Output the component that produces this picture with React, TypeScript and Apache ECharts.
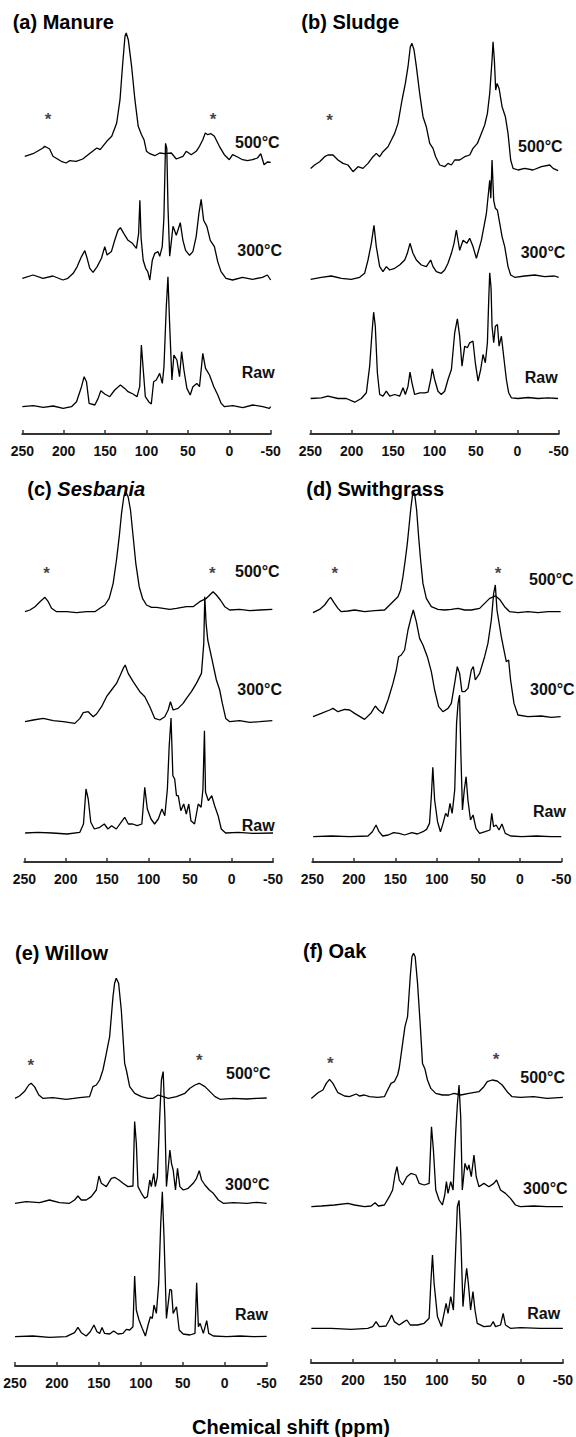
import React, { useEffect, useRef } from "react";
import * as echarts from "echarts";

// ---- tick labels (ppm) ----
const ppmTicks = [250, 200, 150, 100, 50, 0, -50];
const traceNames = ["500°C", "300°C", "Raw"];

// ---- spectra: [ppm, relative intensity] ----
const manure500 = [[247,1.7],[237,4.3],[225,10],[223,11.7],[217,9],[213,1.7],[203,-3.3],[197,-5],[193,-2.7],[185,-3.3],[177,-1],[169,4.3],[160,10],[156,8.3],[148,16.7],[142,21.7],[136,35],[132,58.3],[129,91.7],[126,121.7],[124.5,125],[122,118.3],[118,91.7],[114,58.3],[110,31.7],[106,23.3],[103,18.3],[100,6.7],[96,4.3],[90,2.3],[84,5],[78,4.3],[70,5],[64,-1],[56,1.7],[52,6.7],[46,3.3],[40,6.7],[36,11.7],[32,18.3],[29,25],[26,23.3],[22,24.3],[18,21.7],[12,11.7],[6,3.3],[0,-1.7],[-4,3.3],[-10,1],[-16,-1.7],[-22,-2.7],[-28,-1.7],[-34,0],[-38,4.3],[-42,-6.7],[-46,-4],[-50,-4.3]];
const manure300 = [[250,0],[237,3.3],[225,0],[213,2.3],[201,-1.7],[195,0],[188.5,5],[183.7,11.7],[178.5,21.7],[174.5,27.7],[171.7,20],[168.5,10],[164.5,6],[159.6,11.7],[154.4,20],[150.4,31.7],[147.6,23.3],[142.4,26.7],[138.4,38],[134.4,48],[131.5,50.6],[127.5,45],[122.3,38],[117,35],[112.2,30],[109.5,45],[108,78],[106.5,40],[104,18],[101,10],[98.5,6.7],[96,-1.7],[93,18],[90,25],[86,26.7],[84,22],[81,31.7],[79,60],[77,135],[75.5,130],[74,70],[72,22],[70,36.7],[68,52],[64,43],[59.2,55.6],[56,38],[52.8,28],[48,23],[44,26.7],[40,41.7],[36.7,65],[34,79],[31,58],[27,51.7],[23,38],[18,31.7],[14,16.7],[10,6.7],[4,0],[-4,-1.7],[-16,1],[-28,-1],[-40,1],[-46,3.3],[-50,-1.7]];
const manureRaw = [[250,0],[236.7,1],[224.7,-0.7],[212.7,0.7],[200.6,-1.7],[190.6,0],[184.5,5],[178.5,20],[175.3,30],[172.5,25],[169.3,3.3],[162.4,1.7],[158.4,8.3],[155.2,16],[150.4,12.7],[144.4,10],[138.4,16.7],[131.5,21.7],[126.3,18.3],[122.3,15],[116.3,12.7],[111.4,10],[108.2,20],[106.2,61.7],[104.2,40],[101.4,10],[97.4,5],[94.2,2.7],[91.4,25],[88.2,26.7],[84.1,33.3],[80.9,23.3],[78.9,40],[76.1,100],[74.1,130],[72.1,83.3],[69.3,26.7],[66.9,51.7],[63.3,46.7],[60.1,30],[57.6,55],[54.8,36.7],[51.2,18.3],[47.2,11.7],[44,20],[39.2,23.3],[36,20],[32,53.3],[28.7,38.3],[23.9,31.7],[18.7,20],[13.9,11.7],[9.8,3.3],[5.8,0],[-4.2,1],[-16.3,-1],[-28.3,1.7],[-40.4,0],[-48.4,-1.7],[-50,0]];

const sludge500 = [[249.6,-1.7],[244.8,1.7],[238.7,5],[232.7,10],[228.7,11.7],[222.6,11.7],[216.6,6.7],[210.5,3.3],[204.5,1.7],[198.4,-5],[192.4,0],[186.4,-1.7],[180.3,3.3],[174.3,10],[170.3,13.3],[166.2,10],[162.2,15],[156.2,20],[152.1,26.7],[148.1,33.3],[144.1,43.3],[139.2,66.7],[135.2,83.3],[132,100],[129.2,120],[127.2,123.3],[124.7,116.7],[121.9,100],[117.9,73.3],[113.9,50],[109.9,40],[105.8,23.3],[101.8,18.3],[98.6,10],[93.7,1.7],[87.7,0],[83.7,3.3],[79.6,1.7],[75.6,6.7],[69.6,6.7],[63.5,10],[57.5,11.7],[53.5,18.3],[48.2,23.3],[43.4,33.3],[39.4,41.7],[36.1,53.3],[33.3,73.3],[30.5,106.7],[29.3,125],[27.7,106.7],[26.1,76.7],[24.4,83.3],[22,78.3],[18.4,60],[14.4,50],[11.2,33.3],[8,6.7],[5.1,-1.7],[-0.9,-3.3],[-9,-1.7],[-19,-3.3],[-29.1,0],[-39.2,1.7],[-43.2,-1.7],[-49.2,-4]];
const sludge300 = [[249.6,-1],[236.7,1],[224.6,2.3],[212.5,0],[200.5,-1],[190.4,1],[184.4,5],[180.3,18.3],[176.3,35],[173.1,53],[170.3,31.7],[166.2,11.7],[162.2,6.7],[158.2,11.7],[154.1,8.3],[148.1,10],[142.1,13.3],[136,18.3],[132.8,25],[129.6,35],[126,25],[121.9,18.3],[115.9,13.3],[109.9,11.7],[104.6,18.3],[101.8,11.7],[97.8,6.7],[91.8,5],[87.7,8.3],[83.7,15],[79.6,25],[76.4,35],[73.6,48.3],[69.6,28],[65.5,38],[61,35],[57.5,40],[53.5,31.7],[49.4,20],[43.4,38],[37.3,65],[33.3,98],[32,80],[30.5,118.3],[28.5,78],[26.5,70],[24,68],[21.2,55],[18.4,41.7],[15.2,31.7],[11.2,11.7],[8,3.3],[3.1,1],[-9,2.3],[-21,3.3],[-33,1.7],[-45,2.3],[-50,1]];
const sludgeRaw = [[249.6,0],[236.7,0.7],[228.7,2.3],[216.6,0],[206.5,0],[196.4,-3.7],[188.4,0],[182.3,5.7],[178.3,32.3],[175.5,65.7],[173.5,86.3],[171.5,72.3],[169,25.7],[166.2,4],[162.2,2.3],[158.2,7.3],[154.1,2.3],[148.1,4],[142.1,2.3],[138,10.7],[135.2,4],[132,12.3],[129.6,26.3],[127.2,15.7],[124,4],[117.9,5.7],[111.9,5.7],[107.8,6.3],[104.6,19],[102.6,29.7],[99.8,19],[95.8,7.3],[91.8,4],[87.7,7.3],[83.7,19],[79.6,29],[75.6,65.7],[72.4,79.7],[69.6,62.3],[66.8,32.3],[63.5,52.3],[60.3,50.7],[57.5,55.7],[53.5,57.3],[50.7,35.7],[47.4,17.3],[44.2,29],[41.4,44],[38.6,35.7],[36.1,55.7],[34.5,99],[33.3,125.7],[31.7,110.7],[30.5,72.3],[28.5,55.7],[26.5,72.3],[24,74],[22,52.3],[19.2,62.3],[16,39],[13.2,19],[10.4,5.7],[7.2,0.7],[-0.9,0],[-13,1],[-25,0],[-37.2,0.7],[-49.2,0]];

const sesbania500 = [[249.2,-1.7],[243.2,0],[237.1,3.3],[231.1,8.3],[225.1,12.7],[221.1,8.3],[217.1,1.7],[211,-1.7],[199,-1.7],[187,-2.7],[174.9,-1.7],[164.9,-1.7],[158.8,1.7],[152.8,5],[147.6,11.7],[142.8,26.7],[138.8,50],[135.5,73.3],[132.7,96.7],[130,113],[127.5,118],[124.7,113],[121.9,100],[118.7,73.3],[115.5,46.7],[111.4,23.3],[107.4,11.7],[102.6,5],[96.6,2.7],[90.6,2.7],[82.5,1.7],[74.5,0.7],[66.5,1.7],[54.4,3.3],[46.4,3.3],[38.4,8.3],[30.3,11.7],[22.3,18.3],[18.3,15],[13.5,10],[8.2,3.3],[2.2,0],[-9.8,0.7],[-21.9,-0.7],[-33.9,0],[-49.2,0.7]];
const sesbania300 = [[249.2,0],[239.2,1.7],[227.1,3.3],[215.1,1],[203,0],[189,-1.7],[182.9,3.3],[178.9,9],[172.9,10],[166.9,5],[162.9,7.7],[156.8,15],[150.8,25],[144.8,31.7],[138.8,38.3],[134.1,46.7],[130.7,53.3],[128.3,56.7],[124.7,48.3],[118.7,40],[110.6,30],[104.6,25],[98.6,15],[92.6,3.3],[86.5,1.7],[80.5,5],[76.5,11.7],[73.7,20],[70.5,11.7],[64.5,13.3],[58.4,18.3],[54.4,23.3],[48.4,30],[42.4,38.3],[36.3,48.3],[33.5,78.3],[32.3,125],[30.7,98.3],[28.7,81.7],[24.3,65],[18.3,41.7],[14.3,31.7],[11.1,18.3],[7,3.3],[2.2,0],[-9.8,1],[-21.9,-0.7],[-33.9,0],[-49.2,1]];
const sesbaniaRaw = [[249,0],[233.6,0.7],[216,0],[198.4,-1],[183,0.7],[178.6,9],[175.6,44],[172.9,34],[169.8,10.7],[165.5,4],[158.9,5.7],[153.5,9],[149.1,4],[144.7,7.3],[139,4],[133.3,10.7],[128.9,15.7],[124.5,9],[119.2,9],[113.9,7.3],[108.2,9],[104.7,45.7],[101.6,24],[97.2,14],[92.8,9],[88.4,14],[84,24],[80.5,17.3],[77.4,44],[75.2,87.3],[73,115],[70.8,57.3],[68.6,54],[66.4,37.3],[64.3,37.3],[61.2,22.3],[57.7,29],[54.6,19],[51.6,29],[49,12.3],[44.6,9],[40.2,29],[36.7,25.7],[34.5,44],[32.7,102.3],[31.4,40.7],[27.9,32.3],[23.9,37.3],[20.4,27.3],[16.2,17.3],[12.4,4],[7.2,0],[-8.2,0.7],[-25.8,-0.3],[-50,0]];

const switchgrass500 = [[249.2,-1],[241.2,2.3],[235.1,6.7],[230.3,12.3],[227.9,14.3],[223.9,9],[219.1,3.3],[215.1,0],[207,0.7],[199,1.7],[187,0],[174.9,1],[162.9,1.7],[156.8,6.7],[150.8,11.7],[146.8,15],[143.6,21.7],[140.8,35],[138,51.7],[135.5,68.3],[133.5,85],[131.5,101.7],[129.1,118],[126.7,118],[124.3,101.7],[121.9,75],[119.5,51.7],[116.7,28.3],[112.6,13.3],[106.6,5],[98.6,2.3],[90.6,1.7],[82.5,2.3],[74.5,3.3],[66.5,1.7],[58.4,1.7],[48.4,3.3],[42.4,8.3],[36.3,13.3],[31.1,15],[29.5,16],[24.3,12.3],[18.3,5],[12.2,0],[2.2,-1],[-9.8,0],[-21.9,-1],[-33.9,0],[-49.2,0]];
const switchgrass300 = [[249.2,0],[239.2,3.3],[229.1,6.7],[225.1,8.3],[219.1,5],[211,7.3],[205,6.7],[199,3.3],[187,-2.7],[178.9,4],[174.1,10.7],[170.1,6.7],[164.9,3.3],[158.8,16.7],[152.8,33.3],[148.8,46.7],[146,60],[142.8,61.7],[138.8,66.7],[134.7,86.7],[130.7,100],[128.3,106.7],[124.7,95],[120.7,78.3],[116.7,71.7],[111.4,60],[106.6,45],[102.6,26.7],[97.8,10],[92.6,5],[86.5,8.3],[82.5,13.3],[78.5,33.3],[75.3,50],[72.5,43.3],[69.7,25],[66.5,25],[62.4,28.3],[58.4,46.7],[56,50],[53.6,36.7],[48.4,43.3],[42.4,60],[38.4,73.3],[34.3,96.7],[31.5,123.3],[29.5,131.7],[27.5,106.7],[22.3,80],[16.3,55],[13.5,56.7],[11.1,36.7],[7,13.3],[2.2,1.7],[-9.8,0],[-25.9,0.7],[-37.9,-0.7],[-49.2,0]];
const switchgrassRaw = [[249,0],[227,0.7],[204.9,0],[182.9,0.7],[177.6,5],[173.2,11.7],[169.6,5],[165.2,0.7],[158.6,1.7],[152,4],[145.4,3.3],[138.8,1.7],[130,4],[123.3,2.7],[116.7,5],[112.3,7.3],[108.8,13.3],[106.6,40],[104.8,69.3],[102.6,36.7],[99.1,15],[95.6,5],[92.5,13.3],[89.4,23.3],[86.7,20],[84.1,33.3],[81.5,23.3],[78.4,46.7],[76.2,113.3],[74.4,133.3],[72.6,141.7],[70.9,80],[69.1,26.7],[66.9,46.7],[64.7,60],[62.5,36.7],[59.4,16.7],[56.3,21.7],[52.8,8.3],[48.4,3.3],[41.8,5],[36,6.7],[33.8,23.3],[31.6,10],[28.5,11.7],[25,6.7],[21.5,12.7],[17.5,3.3],[10.9,0.7],[-2.3,0],[-19.9,0.7],[-37.6,0],[-50,0]];

const willow500 = [[250,0],[244.7,2.3],[238.8,6.7],[233.6,13.3],[230.8,15],[226.8,11.7],[221.6,3.3],[216.9,0],[204.9,0.7],[189,-1],[173,0.7],[161.1,1.7],[157.1,11.7],[153.1,13.3],[149.1,18.3],[145.2,28.3],[141.9,41.7],[137.2,61.7],[133.2,101.7],[131.3,115],[129.3,120],[126.5,115],[123.3,88.3],[119.3,35],[117.3,28.3],[113.3,11.7],[107.3,5],[99.3,1.7],[91.3,0],[85.3,0],[79.4,3.3],[73.4,1.7],[67.4,0],[57.5,1.7],[47.5,5],[41.5,10],[35.5,13.3],[30.4,15],[23.6,11.7],[17.6,6.7],[11.6,1.7],[5.6,-1],[-10.3,0],[-26.3,-0.7],[-38.2,0],[-50,0.3]];
const willow300 = [[250,0],[236.8,1.7],[220.8,0.7],[208.9,3.3],[197,0.7],[185,0],[179,3.3],[175,7.3],[171,3.3],[165.1,3.3],[159.1,6.7],[153.1,13.3],[149.9,27.3],[147.1,20],[141.2,16.7],[135.2,25],[131.3,26],[126.1,23.3],[121.3,20],[115.4,16.7],[109.4,17.3],[107.4,81.7],[105.4,60],[103.4,16.7],[99.3,10],[95.4,5],[92.2,6.7],[89.4,23.3],[87.5,16.7],[84.7,30],[82.7,16.7],[80.3,26.7],[77.5,86.7],[75.5,123.3],[73.4,131.7],[71.4,86.7],[69.5,16.7],[67.4,35],[65.4,53.3],[63.5,40],[61.5,33.3],[58.7,13.3],[56.3,35],[53.5,16.7],[49.5,13.3],[43.6,15],[37.6,20],[33.6,25],[30.4,32.7],[27.6,23.3],[23.6,18.3],[18.4,13.3],[13.6,10],[7.6,3.3],[1.7,0],[-10.3,0.7],[-26.3,0],[-38.2,1],[-50,0]];
const willowRaw = [[250,0],[228.8,0.7],[208.9,-0.7],[189,0],[179,4],[175,9.3],[171,4],[165.1,0.7],[160.3,5],[155.9,11.7],[152.3,5],[149.1,3.3],[146.3,9.3],[143.2,3.3],[137.2,2.7],[132.4,5.7],[127.3,2.7],[121.3,3.3],[117.3,7.3],[113.3,6.7],[109.4,10],[107.4,60.7],[105.4,26.7],[102.2,16.7],[98.3,8.3],[94.6,0.7],[91.4,11.7],[88.6,20],[86.3,18.3],[84.3,31.7],[81.5,23.3],[78.7,53.3],[76.3,113.3],[74.4,145],[72.4,100],[69.5,18.3],[67.4,33.3],[65.4,47.3],[63.5,46.7],[61.5,23.3],[57.5,30],[54.3,6.7],[49.5,2.7],[41.5,1.7],[35.5,3.3],[33.5,54],[31.4,10],[29.4,13.3],[25.5,3.3],[21.5,16],[19.1,3.3],[13.6,0.7],[-2.3,0],[-18.2,0.7],[-34.2,0],[-50,0.3]];

const oak500 = [[249.6,-1.7],[241.7,4],[235.8,6.7],[231.8,13.3],[227.9,17.3],[223.9,13.3],[218,4],[210.1,0.7],[204.2,0],[196.2,2.7],[192.3,0.7],[186.4,1.7],[180.4,0],[170.6,-0.7],[162.6,0],[158.7,6.7],[154.7,13.3],[150.8,15],[146.8,21.7],[144.9,28.7],[140.9,53],[138.1,70],[135,80],[131.8,120],[129.8,140],[127.9,143.3],[125.9,140],[123.1,113.3],[120,73.3],[117.2,33.3],[114.4,28],[111.3,16.7],[107.3,8.3],[101.4,3.3],[93.5,1.7],[85.6,1.7],[79.6,3.3],[71.7,1.7],[61.9,3.3],[50,5],[44.1,10],[40.1,15],[34.2,16.7],[28.3,15.7],[22.3,11.7],[16.4,5],[10.5,0],[0.6,-0.7],[-15.2,0],[-31,-1.7],[-50,-0.7]];
const oak300 = [[249.6,0],[237.7,0.7],[221.9,1.7],[206.1,3.3],[198.2,1.7],[186.4,0],[178.5,0.7],[173.7,4],[169.8,0.7],[162.6,1.7],[156.7,10],[152.8,16.7],[150,31.7],[147.6,40],[144.9,26.7],[140.9,21.7],[135.8,30],[131,33.3],[125.1,31.7],[121.1,23.3],[115.2,21.7],[109.3,23.3],[106.5,80],[104.2,56.7],[101.4,16.7],[97.4,6.7],[93.5,1.7],[90.7,11.7],[88.7,25],[86.8,13.3],[83.6,25],[80.8,16.7],[77.7,73.3],[75.7,101.7],[73.7,121.7],[71.7,90],[69.8,16.7],[66.6,43.3],[63.8,36.7],[61.9,41.7],[59.1,30],[55.9,51.7],[53.2,30],[50,20],[44.1,23.3],[38.1,20],[32.2,23.3],[29,26.7],[24.3,16.7],[18.4,13.3],[12.4,8.3],[6.5,1.7],[0.6,0],[-15.2,0.7],[-31,0],[-50,0]];
const oakRaw = [[249.6,0],[225.9,0],[202.2,-1],[182.4,0],[176.5,1.7],[172.5,6.7],[168.6,1.7],[160.7,2.3],[156.7,8.3],[154,13.3],[150.8,6.7],[144.9,3.3],[139.1,6.7],[135.8,8.3],[131.8,3.3],[123.1,3.3],[115.2,5],[109.3,10],[107.3,45],[105.3,73.3],[103.4,45],[99.4,11.7],[94.7,1.7],[91.5,15],[89.1,25],[86.8,15],[83.6,31.7],[80.4,18.3],[77.7,78.3],[75.7,121.7],[73.7,128],[71.7,95],[69,21.7],[66.6,45],[64.6,60],[62.6,45],[59.9,18.3],[57.1,36.7],[54.7,18.3],[52,5],[44.1,1.7],[36.1,2.3],[33,6.7],[30.2,1.7],[24.3,3.3],[21.1,15],[18.4,3.3],[12.4,0],[0.6,0.7],[-23.1,0],[-50,0]];

// spinning side band markers: [ppm, height]
const manureStars = [[219, 315], [19.7, 315]];
const sludgeStars = [[226.6, 313.6]];
const sesbaniaStars = [[223, 289], [23.2, 289]];
const switchgrassStars = [[223, 289], [26.3, 289]];
const willowStars = [[231.3, 300.6], [30.3, 305.6]];
const oakStars = [[227.1, 299.3], [29.6, 303.3]];

const FONT = '"Liberation Sans", Arial, Helvetica, sans-serif';
const H = 430;

type Panel = {
  title: string;
  italic?: string;
  left: number;
  right: number;
  axisY: number;
  titleX: number;
  titleY: number;
  traces: number[][][];
  offsets: number[];
  labels: number[][];
  stars: number[][];
};

const panels: Panel[] = [
  { title: "(a) Manure", left: 22.3, right: 270.7, axisY: 434, titleX: 12.7, titleY: 22,
    traces: [manure500, manure300, manureRaw], offsets: [276, 155.7, 27.3],
    labels: [[235, 142.5], [237.3, 250], [241.7, 372]], stars: manureStars },
  { title: "(b) Sludge", left: 310.3, right: 558.7, axisY: 434, titleX: 301.3, titleY: 22,
    traces: [sludge500, sludge300, sludgeRaw], offsets: [267.3, 155.7, 35.5],
    labels: [[518, 146], [520.7, 252], [524.7, 377.5]], stars: sludgeStars },
  { title: "(c) ", italic: "Sesbania", left: 24.3, right: 273, axisY: 862, titleX: 27.3, titleY: 488.5,
    traces: [sesbania500, sesbania300, sesbaniaRaw], offsets: [252, 140.3, 29],
    labels: [[235, 571], [237.3, 689.5], [241.7, 825]], stars: sesbaniaStars },
  { title: "(d) Swithgrass", left: 312.3, right: 561.3, axisY: 862, titleX: 306.3, titleY: 489,
    traces: [switchgrass500, switchgrass300, switchgrassRaw], offsets: [250.3, 145.3, 25.3],
    labels: [[529, 579], [530, 689], [533, 811]], stars: switchgrassStars },
  { title: "(e) Willow", left: 15, right: 266.7, axisY: 1366, titleX: 15, titleY: 953,
    traces: [willow500, willow300, willowRaw], offsets: [267.7, 162.7, 29.3],
    labels: [[226, 1073], [225, 1184.5], [235, 1314]], stars: willowStars },
  { title: "(f) Oak", left: 311, right: 564.3, axisY: 1363, titleX: 303, titleY: 950.5,
    traces: [oak500, oak300, oakRaw], offsets: [266.3, 156.3, 34.7],
    labels: [[520.3, 1077.5], [523, 1188], [527.3, 1313.5]], stars: oakStars },
];

function buildOption() {
  const grid: any[] = [];
  const xAxis: any[] = [];
  const yAxis: any[] = [];
  const series: any[] = [];
  const graphic: any[] = [];

  panels.forEach((p, i) => {
    grid.push({ left: p.left, top: p.axisY - H, width: p.right - p.left, height: H, containLabel: false });
    xAxis.push({
      type: "value", gridIndex: i, min: -50, max: 250, interval: 50, inverse: true,
      axisLine: { show: true, onZero: false, lineStyle: { color: "#333", width: 2 } },
      axisTick: { show: true, inside: true, length: 4, lineStyle: { color: "#333", width: 1.5 } },
      axisLabel: {
        show: true, fontSize: 14, fontWeight: "bold", color: "#111", margin: 10, fontFamily: FONT,
        showMinLabel: true, showMaxLabel: true,
        formatter: (v: number) => (ppmTicks.includes(v) ? String(v) : ""),
      },
      splitLine: { show: false },
    });
    yAxis.push({ type: "value", gridIndex: i, min: 0, max: H, show: false, splitLine: { show: false } });

    p.traces.forEach((tr, k) => {
      series.push({
        type: "line", name: `${p.title}${p.italic || ""} ${traceNames[k]}`,
        xAxisIndex: i, yAxisIndex: i,
        data: tr.map(([x, h]) => [x, h + p.offsets[k]]),
        symbol: "none", showSymbol: false, clip: false, silent: true,
        lineStyle: { color: "#000", width: 1.3 },
      });
    });

    series.push({
      type: "scatter", xAxisIndex: i, yAxisIndex: i, data: p.stars, symbolSize: 1, silent: true,
      itemStyle: { color: "rgba(0,0,0,0)" },
      label: { show: true, position: "inside", formatter: "*", fontSize: 17, fontWeight: "bold", color: "#111", fontFamily: FONT },
    });

    if (p.italic) {
      graphic.push({
        type: "text", x: p.titleX, y: p.titleY, silent: true,
        style: {
          text: `{n|${p.title}}{i|${p.italic}}`,
          rich: {
            n: { fontSize: 20, fontWeight: "bold", fontFamily: FONT, fill: "#000" },
            i: { fontSize: 20, fontWeight: "bold", fontStyle: "italic", fontFamily: FONT, fill: "#000" },
          },
          align: "left", verticalAlign: "middle", textAlign: "left", textVerticalAlign: "middle",
        },
      });
    } else {
      graphic.push({
        type: "text", x: p.titleX, y: p.titleY, silent: true,
        style: {
          text: p.title, fontSize: 20, fontWeight: "bold", fontFamily: FONT, fill: "#000",
          align: "left", verticalAlign: "middle", textAlign: "left", textVerticalAlign: "middle",
        },
      });
    }

    p.labels.forEach(([lx, ly], k) => {
      graphic.push({
        type: "text", x: lx, y: ly, silent: true,
        style: {
          text: traceNames[k], fontSize: 16, fontWeight: "bold", fontFamily: FONT, fill: "#111",
          align: "left", verticalAlign: "middle", textAlign: "left", textVerticalAlign: "middle",
        },
      });
    });
  });

  graphic.push({
    type: "text", x: 291, y: 1427, silent: true,
    style: {
      text: "Chemical shift (ppm)", fontSize: 20, fontWeight: "bold", fontFamily: FONT, fill: "#000",
      align: "center", verticalAlign: "middle", textAlign: "center", textVerticalAlign: "middle",
    },
  });

  return {
    animation: false,
    backgroundColor: "#fff",
    grid, xAxis, yAxis, series, graphic,
  };
}

export default function App() {
  const ref = useRef<HTMLDivElement>(null);
  useEffect(() => {
    if (!ref.current) return;
    const chart = echarts.init(ref.current, undefined, { renderer: "svg" });
    chart.setOption(buildOption() as any);
    return () => chart.dispose();
  }, []);
  return (
    <div
      ref={ref}
      style={{ position: "absolute", left: 0, top: 0, width: 576, height: 1437, background: "#fff" }}
    />
  );
}
